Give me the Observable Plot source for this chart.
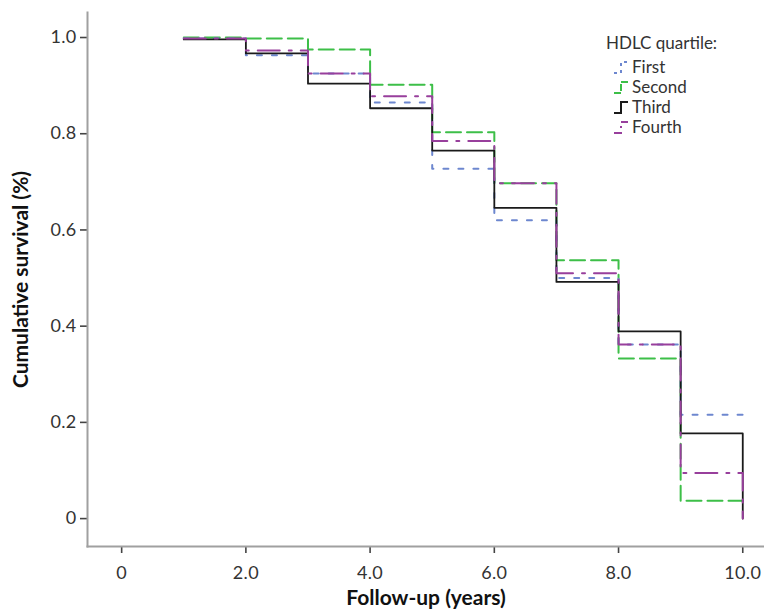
<!DOCTYPE html>
<html>
<head>
<meta charset="utf-8">
<script src="https://cdn.jsdelivr.net/npm/d3@7"></script>
<script src="https://cdn.jsdelivr.net/npm/@observablehq/plot@0.6"></script>
<style>
  html, body { margin: 0; padding: 0; background: #fff; }
  #wrap { position: relative; width: 764px; height: 612px; font-family: Lato, "Open Sans", sans-serif; }
  #legend { position: absolute; left: 606px; top: 33px; color: #333; font-size: 17px; line-height: 20px; }
  #legend .title { margin-bottom: 4px; }
  #legend .row { display: flex; align-items: center; margin-left: 6px; height: 20px; }
  #legend svg { margin-right: 2px; }
</style>
</head>
<body>
<div id="wrap"><div id="legend"></div></div>
<script>
// ---- data ----
const groups = ["First", "Second", "Third", "Fourth"];
const times = [1, 2, 3, 4, 5, 6, 7, 8, 9];
const endTime = 10;
const first  = [0.998, 0.963, 0.925, 0.865, 0.727, 0.620, 0.500, 0.362, 0.216];
const second = [1.000, 0.998, 0.975, 0.902, 0.803, 0.697, 0.537, 0.333, 0.037];
const third  = [0.996, 0.967, 0.904, 0.853, 0.765, 0.646, 0.492, 0.389, 0.177];
const fourth = [0.998, 0.973, 0.925, 0.878, 0.785, 0.697, 0.510, 0.362, 0.095];
const dropsToZero = ["Third", "Fourth"];
const xTicks = [0, 2, 4, 6, 8, 10];
const yTicks = [0, 0.2, 0.4, 0.6, 0.8, 1.0];
const xLabel = "Follow-up (years)";
const yLabel = "Cumulative survival (%)";

// ---- styles ----
const colors = {First: "#6d87cf", Second: "#3dbf48", Third: "#1a1a1a", Fourth: "#983f9c"};
const dashes = {First: "5,10", Second: "15,6", Third: null, Fourth: "22,9,3,9"};

const valuesBy = {First: first, Second: second, Third: third, Fourth: fourth};
function seriesData(g) {
  const v = valuesBy[g];
  const pts = times.map((t, i) => ({t, s: v[i], g}));
  pts.push({t: endTime, s: v[v.length - 1], g});
  if (dropsToZero.includes(g)) pts.push({t: endTime, s: 0, g});
  return pts;
}

const fmt = d => d === 0 ? "0" : d.toFixed(1);
const drawOrder = ["Second", "First", "Third", "Fourth"];

const chart = Plot.plot({
  width: 764,
  height: 612,
  marginLeft: 87,
  marginRight: 0,
  marginTop: 12,
  marginBottom: 66,
  style: {fontFamily: "Lato, 'Open Sans', sans-serif", fontSize: "18px", color: "#333", background: "#fff"},
  x: {domain: [-0.55, 10.35], ticks: xTicks, tickFormat: fmt, tickSize: 7, tickPadding: 13,
      label: xLabel, labelAnchor: "center", labelOffset: 58, labelArrow: "none"},
  y: {domain: [-0.058, 1.052], ticks: yTicks, tickFormat: fmt, tickSize: 7, tickPadding: 4,
      label: yLabel, labelAnchor: "center", labelOffset: 74, labelArrow: "none"},
  marks: [
    Plot.frame({anchor: "left", stroke: "#a0a0a0", strokeWidth: 2}),
    Plot.frame({anchor: "bottom", stroke: "#a0a0a0", strokeWidth: 2}),
    ...drawOrder.map(g => Plot.line(seriesData(g), {
      x: "t", y: "s", curve: "step-after",
      stroke: colors[g], strokeWidth: g === "Third" ? 1.8 : 2,
      strokeDasharray: dashes[g] || undefined
    }))
  ]
});

const wrap = document.getElementById("wrap");
wrap.insertBefore(chart, wrap.firstChild);

// text styling: ticks 18px, axis titles bold 21px
d3.select(chart).selectAll("text").each(function () {
  const t = d3.select(this);
  const s = t.text();
  if (s === xLabel || s === yLabel) {
    t.style("font-size", "21px").style("font-weight", "bold").attr("fill", "#111");
  } else {
    t.style("font-size", "18px").style("letter-spacing", "0.3px").attr("fill", "#333");
  }
});
d3.select(chart).selectAll("g[aria-label='x-axis tick'] path, g[aria-label='y-axis tick'] path")
  .attr("stroke", "#444").attr("stroke-width", 1.6);

// legend
const legend = d3.select("#legend");
legend.append("div").attr("class", "title").text("HDLC quartile:");
groups.forEach(g => {
  const row = legend.append("div").attr("class", "row");
  const svg = row.append("svg").attr("width", 18).attr("height", 16);
  svg.append("path").attr("d", "M2,14 H9 V3 H16").attr("fill", "none")
    .attr("stroke", colors[g]).attr("stroke-width", 2)
    .attr("stroke-dasharray", g === "First" ? "3,4" : g === "Fourth" ? "8,4,2,4" : g === "Second" ? "7,2" : null);
  row.append("span").text(g);
});
</script>
</body>
</html>
